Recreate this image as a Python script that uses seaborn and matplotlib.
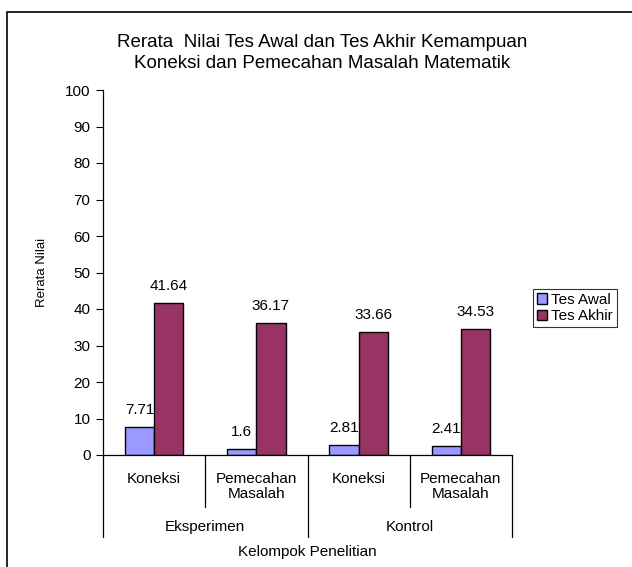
import matplotlib
matplotlib.use("Agg")
import matplotlib.pyplot as plt
import matplotlib.patches as mpatches
import seaborn as sns
import pandas as pd

# ---- data ----
groups = ["Eksperimen", "Eksperimen", "Kontrol", "Kontrol"]
aspects = ["Koneksi", "Pemecahan\nMasalah", "Koneksi", "Pemecahan\nMasalah"]
tes_awal = [7.71, 1.6, 2.81, 2.41]
tes_akhir = [41.64, 36.17, 33.66, 34.53]
series = ["Tes Awal", "Tes Akhir"]
y_ticks = list(range(0, 101, 10))
title = "Rerata  Nilai Tes Awal dan Tes Akhir Kemampuan\nKoneksi dan Pemecahan Masalah Matematik"
x_label = "Kelompok Penelitian"
y_label = "Rerata Nilai"

cats = [f"{g}|{a}" for g, a in zip(groups, aspects)]
df = pd.DataFrame({
    "cat": cats * 2,
    "series": [series[0]] * 4 + [series[1]] * 4,
    "value": tes_awal + tes_akhir,
})

sns.set_style("white")
plt.rcParams["font.family"] = ["Liberation Sans", "DejaVu Sans"]
plt.rcParams["text.color"] = "black"
plt.rcParams["axes.labelcolor"] = "black"
plt.rcParams["xtick.color"] = "black"
plt.rcParams["ytick.color"] = "black"

W, H = 632, 567
fig = plt.figure(figsize=(W / 100, H / 100), dpi=100)
x0, x1, y0, y1 = 103, 512, 455, 90
ax = fig.add_axes([x0 / W, 1 - y0 / H, (x1 - x0) / W, (y0 - y1) / H])

sns.barplot(data=df, x="cat", y="value", hue="series", order=cats,
            hue_order=series, palette=["#9999FF", "#993366"],
            width=0.57, edgecolor="black", linewidth=1.0,
            saturation=1, ax=ax, legend=True)

for c in ax.containers:
    ax.bar_label(c, labels=[f"{v:g}" for v in c.datavalues],
                 padding=7, fontsize=11, color="black")

ax.set_ylim(0, 100)
ax.set_xlim(-0.5, len(cats) - 0.5)
ax.set_yticks(y_ticks)
ax.tick_params(axis="y", direction="out", length=5, width=0.8,
               labelsize=11, left=True, pad=4, colors="black")
ax.set_xticks(range(len(cats)))
ax.set_xticklabels(aspects, fontsize=11, linespacing=1.15)
ax.tick_params(axis="x", length=0, pad=12, colors="black")
for s in ["top", "right"]:
    ax.spines[s].set_visible(False)
for s in ["left", "bottom"]:
    ax.spines[s].set_color("black")
    ax.spines[s].set_linewidth(0.9)

# multi-level category separators
trans = ax.get_xaxis_transform()
ax_h = y0 - y1
sub_y = -(507 - y0) / ax_h
full_y = -(537 - y0) / ax_h
n = len(cats)
for i in range(n + 1):
    xb = i - 0.5
    is_group_edge = (i == 0 or i == n or groups[i - 1] != groups[i])
    ybot = full_y if is_group_edge else sub_y
    ax.plot([xb, xb], [0, ybot], color="black", lw=0.9,
            transform=trans, clip_on=False)

# group labels
uniq = []
for i, g in enumerate(groups):
    if not uniq or uniq[-1][0] != g:
        uniq.append([g, i, i])
    else:
        uniq[-1][2] = i
for g, a, b in uniq:
    ax.text((a + b) / 2, -(527 - y0) / ax_h, g, transform=trans,
            ha="center", va="center", fontsize=11, color="black")

ax.set_xlabel(x_label, fontsize=11, color="black")
ax.xaxis.set_label_coords(0.5, -(545 - y0) / ax_h)
ax.xaxis.label.set_va("top")
ax.set_ylabel(y_label, fontsize=9.5, color="black")
ax.yaxis.set_label_coords(-(103 - 48) / (x1 - x0), 0.5)

fig.text(322 / W, 1 - 53 / H, title, ha="center", va="center",
         fontsize=13.5, linespacing=1.32, color="black")

# legend
handles, labels = ax.get_legend_handles_labels()
if ax.legend_:
    ax.legend_.remove()
leg = fig.legend(handles, labels, loc="upper left",
                 bbox_to_anchor=(533 / W, 1 - 289 / H),
                 bbox_transform=fig.transFigure, fontsize=11,
                 frameon=True, fancybox=False, handlelength=0.65,
                 handleheight=0.65, handletextpad=0.3, borderpad=0.25,
                 labelspacing=0.15, borderaxespad=0)
leg.get_frame().set_edgecolor("black")
leg.get_frame().set_linewidth(0.8)
for t in leg.get_texts():
    t.set_color("black")

# outer chart frame
fig.patches.append(mpatches.Rectangle((7 / W, -0.1), 1.2, 1 - 12 / H + 0.1,
                                      transform=fig.transFigure, fill=False,
                                      edgecolor="black", lw=1.2))

fig.savefig("out.png", dpi=100)
